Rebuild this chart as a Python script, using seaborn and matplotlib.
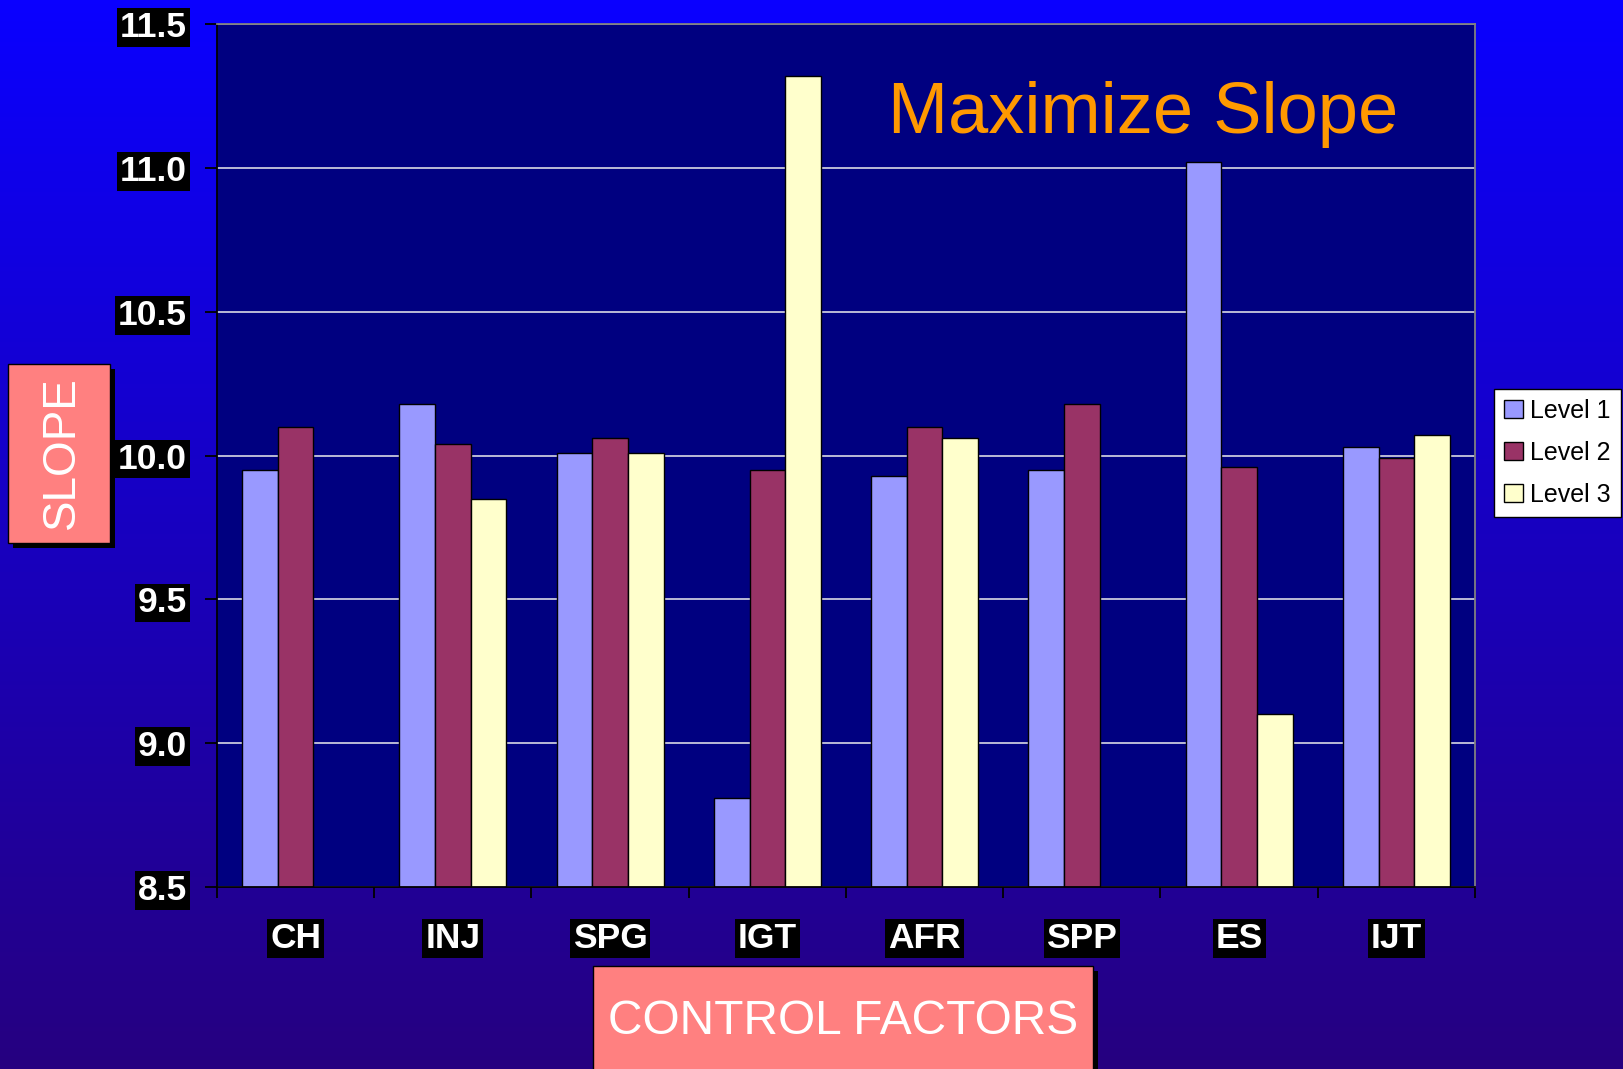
import numpy as np
import pandas as pd
import matplotlib.pyplot as plt
import seaborn as sb
from matplotlib.patches import Rectangle, Patch

# values
factors = ['CH', 'INJ', 'SPG', 'IGT', 'AFR', 'SPP', 'ES', 'IJT']
levels = ['Level 1', 'Level 2', 'Level 3']
level1 = [9.95, 10.18, 10.01, 8.81, 9.93, 9.95, 11.02, 10.03]
level2 = [10.10, 10.04, 10.06, 9.95, 10.10, 10.18, 9.96, 9.99]
level3 = [np.nan, 9.85, 10.01, 11.32, 10.06, np.nan, 9.10, 10.07]
yticks = [8.5, 9.0, 9.5, 10.0, 10.5, 11.0, 11.5]
colors = ['#9999FF', '#993366', '#FFFFCC']

df = pd.DataFrame({
    'factor': factors * 3,
    'level': [lv for lv in levels for _ in factors],
    'slope': level1 + level2 + level3,
})

plt.rcParams['font.family'] = ['Liberation Sans', 'DejaVu Sans']

W, H = 1624, 1069
fig = plt.figure(figsize=(W / 100, H / 100), dpi=100)

# gradient background
bg = fig.add_axes([0, 0, 1, 1], zorder=-10)
top = np.array([10, 0, 255]) / 255
bot = np.array([38, 0, 128]) / 255
t = np.linspace(0, 1, 256)[:, None]
grad = (top[None, :] * (1 - t) + bot[None, :] * t)[:, None, :]
bg.imshow(grad, aspect='auto', extent=[0, 1, 0, 1])
bg.axis('off')

ax = fig.add_axes([217 / W, 1 - 887 / H, (1475 - 217) / W, (887 - 24) / H])
ax.set_facecolor('#000080')

sb.barplot(data=df, x='factor', y='slope', hue='level', order=factors,
           hue_order=levels, palette=colors, saturation=1, width=0.68,
           gap=0, edgecolor='black', linewidth=1, errorbar=None,
           legend=False, ax=ax)

ax.set_ylim(8.5, 11.5)
ax.set_xlim(-0.5, 7.5)
ax.set_xlabel('')
ax.set_ylabel('')
ax.set_axisbelow(True)
ax.yaxis.grid(True, color='#C8C8DC', lw=1.3)
ax.xaxis.grid(False)

for s in ['left', 'bottom']:
    ax.spines[s].set_color('black')
    ax.spines[s].set_linewidth(1.3)
for s in ['top', 'right']:
    ax.spines[s].set_color('#808080')
    ax.spines[s].set_linewidth(1.3)

ax.set_yticks(yticks)
ax.set_yticklabels([f'{v:.1f}' for v in yticks])
ax.tick_params(axis='y', length=8.5, width=1.3, color='black', pad=13,
               labelsize=25.5, labelcolor='white')
ax.set_xticks(range(len(factors)))
ax.set_xticklabels(factors)
ax.tick_params(axis='x', which='major', length=0, pad=25,
               labelsize=25.5, labelcolor='white')
ax.set_xticks(np.arange(-0.5, len(factors), 1), minor=True)
ax.tick_params(axis='x', which='minor', length=8, width=1.3, color='black')

for lab in ax.get_yticklabels() + ax.get_xticklabels():
    lab.set_fontweight('bold')
    lab.set_bbox(dict(facecolor='black', edgecolor='none', pad=2))

ax.text(0.736, 0.8737, 'Maximize Slope', transform=ax.transAxes,
        ha='center', va='baseline', color='#FF9900', fontsize=52)

# axis title boxes with shadow
def label_box(x0, y0, x1, y1):
    fig.add_artist(Rectangle(((x0 + 5) / W, 1 - (y1 + 5) / H), (x1 - x0) / W,
                             (y1 - y0) / H, transform=fig.transFigure,
                             facecolor='black', edgecolor='none'))
    fig.add_artist(Rectangle((x0 / W, 1 - y1 / H), (x1 - x0) / W,
                             (y1 - y0) / H, transform=fig.transFigure,
                             facecolor='#FF8080', edgecolor='black', lw=1))

label_box(8, 364, 110, 543)
fig.text(62 / W, 1 - 453 / H, 'SLOPE', rotation=90, ha='center',
         va='center', color='white', fontsize=33)

label_box(593, 966, 1093, 1090)
fig.text(843 / W, 1 - 1034 / H, 'CONTROL FACTORS', ha='center',
         va='baseline', color='white', fontsize=34.5)

handles = [Patch(facecolor=c, edgecolor='black', lw=1) for c in colors]
leg = ax.legend(handles, levels, loc='center left',
                bbox_to_anchor=(1494 / W, 1 - 453 / H),
                bbox_transform=fig.transFigure, fontsize=18, frameon=True,
                fancybox=False, edgecolor='black', framealpha=1,
                borderpad=0.4, labelspacing=0.72, handlelength=0.75,
                handleheight=0.75, handletextpad=0.3, borderaxespad=0)
leg.get_frame().set_linewidth(1)

fig.savefig('out.png', dpi=100)
